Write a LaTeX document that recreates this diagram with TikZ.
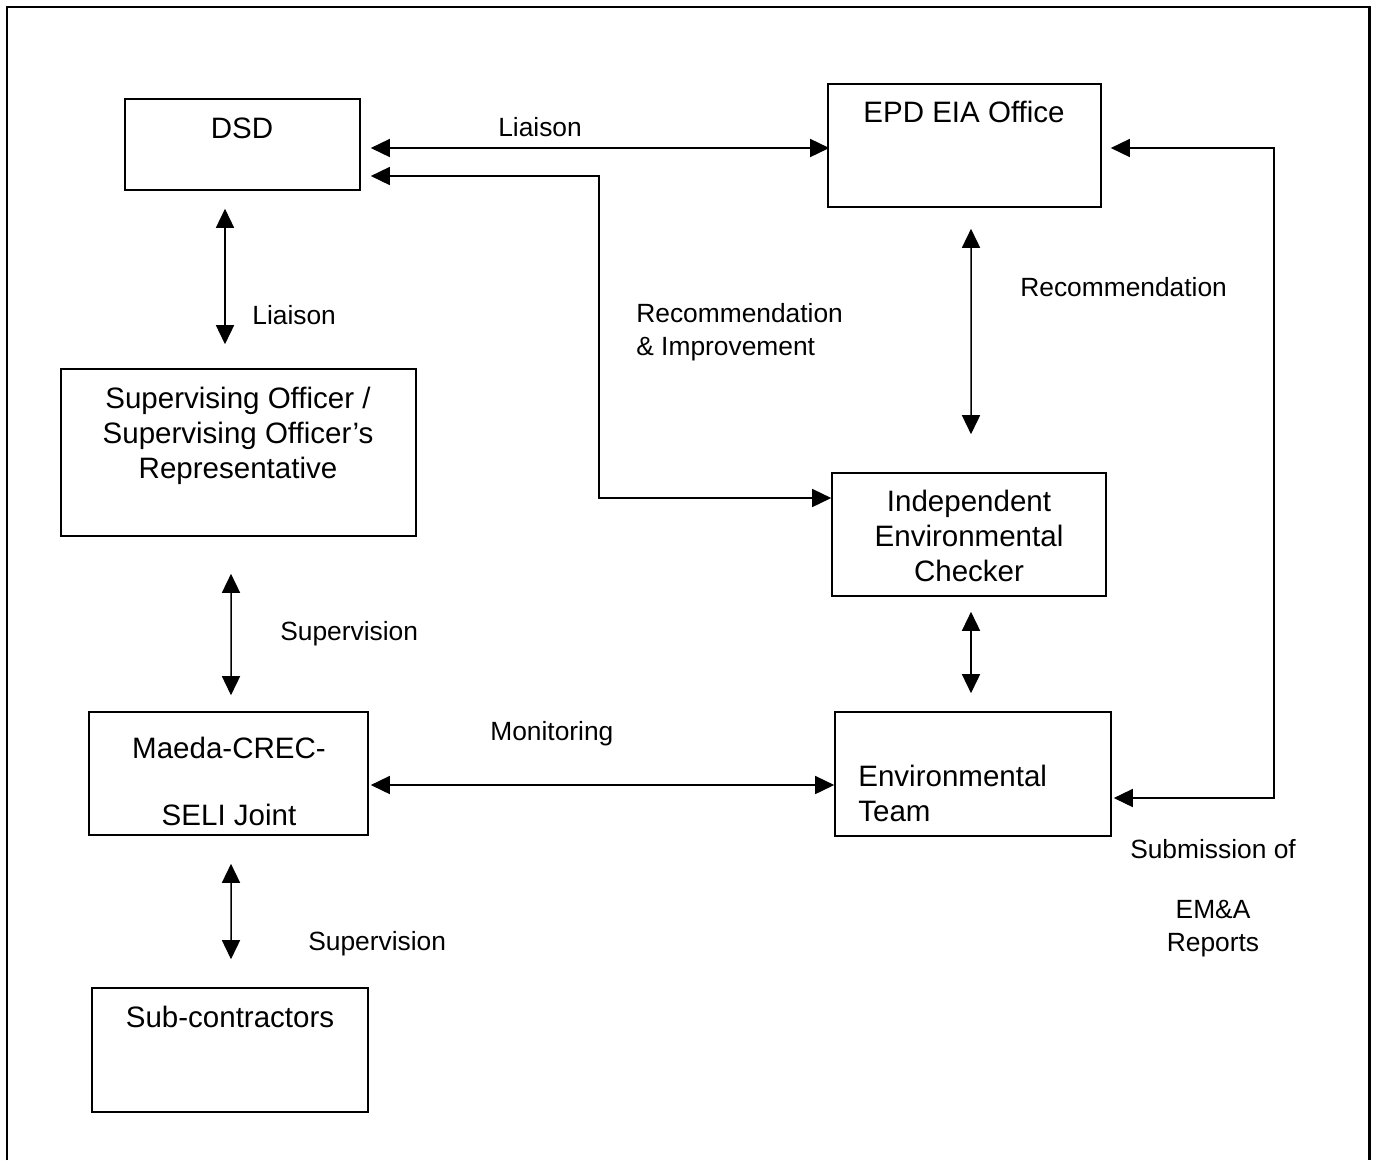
\documentclass[tikz,border=0pt]{standalone}
\usepackage{fontspec}
\setmainfont{Liberation Sans}
\usepackage{tikz}
\usetikzlibrary{arrows.meta, positioning, calc, fit}
\tikzset{
	tri/.tip={Triangle[length=0.38cm,width=0.36cm]},
	box/.style={draw, line width=0.9pt, inner sep=0pt},
	boxtext/.style={inner sep=0pt, align=center, font=\fontsize{16.8}{19.9}\selectfont},
	lbl/.style={inner sep=0pt, align=left, font=\fontsize{15}{18.8}\selectfont},
	dbl/.style={tri-tri, line width=0.85pt}
}

\begin{document}
\begin{tikzpicture}[x=0.02cm, y=-0.02cm]
	\useasboundingbox (0,0) rectangle (1381,1160);
	\draw[line width=1.7pt] (7,1160) |- (1369,7) -- (1369,1160);
	\node[box, fit={(125,99) (360,190)}] (dsd) {};
	\node[box, fit={(828,84) (1101,207)}] (epd) {};
	\node[box, fit={(61,369) (416,536)}] (so) {};
	\node[box, fit={(832,473) (1106,596)}] (iec) {};
	\node[box, fit={(89,712) (368,835)}] (mcs) {};
	\node[box, fit={(835,712) (1111,836)}] (et) {};
	\node[box, fit={(92,988) (368,1112)}] (sub) {};
	\node[boxtext] (dsd-t) at (242,128) {DSD};
	\node[boxtext] (epd-t) at (964,112) {EPD EIA Office};
	\node[boxtext] (so-t) at (238,436) {Supervising Officer /\\Supervising Officer's\\Representative};
	\node[boxtext] (iec-t) at (969,536) {Independent\\Environmental\\Checker};
	\node[boxtext] (mcs-t) at (229,781) {Maeda-CREC-\\[0.64cm]SELI Joint};
	\node[boxtext, align=left, anchor=west] (et-t) at (858,793) {Environmental\\Team};
	\node[boxtext] (sub-t) at (230,1017) {Sub-contractors};
	\node[lbl, anchor=center] (l-liaison1) at (540,127) {Liaison};
	\node[lbl, anchor=west] (l-liaison2) at (252,315) {Liaison};
	\node[lbl, anchor=west] (l-recimp) at (636,332) {Recommendation\\\& Improvement};
	\node[lbl, anchor=west] (l-rec) at (1020,287) {Recommendation};
	\node[lbl, anchor=west] (l-sup1) at (280,634) {Supervision};
	\node[lbl, anchor=west] (l-mon) at (490,734) {Monitoring};
	\node[lbl, anchor=west] (l-sup2) at (308,944) {Supervision};
	\node[lbl, align=center] (l-sub) at (1213,898) {Submission of\\[0.54cm]EM\&A\\Reports};
	\draw
	($(dsd.east)+(10,3.5)$) edge[dbl] ($(epd.west)+(2,2.5)$)
	($(dsd.south)+(-17.5,18)$) edge[dbl] ($(so.north)+(-13.5,-24)$)
	($(epd.south)+(6.5,21)$) edge[dbl] ($(iec.north)+(2,-38)$)
	($(so.south)+(-7.5,37)$) edge[dbl] ($(mcs.north)+(2.5,-16)$)
	($(iec.south)+(2,15)$) edge[dbl] ($(et.north)+(-2,-18)$)
	($(mcs.east)+(2,11.5)$) edge[dbl] ($(et.west)+(0,11)$)
	($(mcs.south)+(2.5,28)$) edge[dbl] ($(sub.north)+(1,-28)$);
	\draw[dbl] ($(dsd.east)+(10,31.5)$) -| ($(iec.west)+(-232,-36.5)$) -- ($(iec.west)+(0,-36.5)$);
	\draw[dbl] ($(epd.east)+(9,2.5)$) -| ($(et.east)+(162,24)$) -- ($(et.east)+(2,24)$);
\end{tikzpicture}
\end{document}
